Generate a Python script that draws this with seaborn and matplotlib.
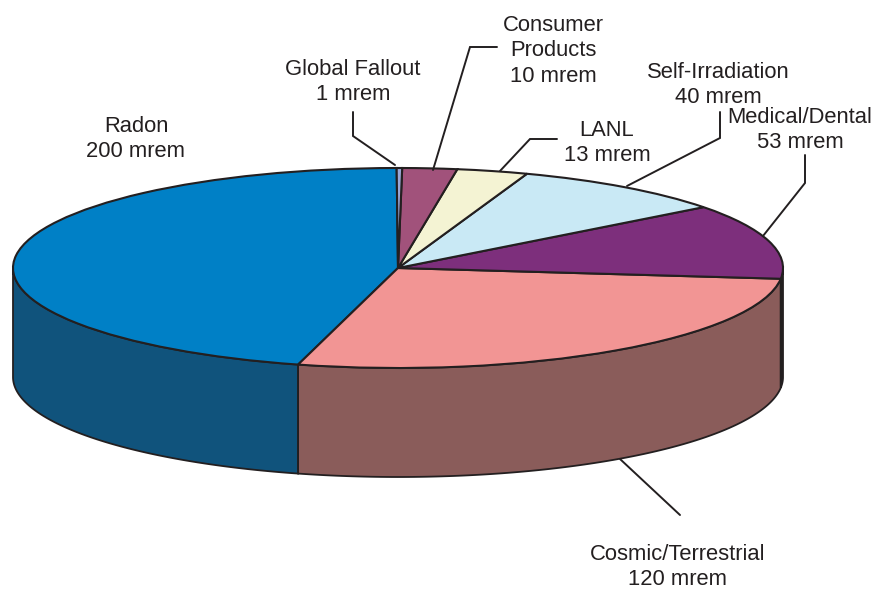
import numpy as np
import matplotlib
matplotlib.use("Agg")
import matplotlib.pyplot as plt
import seaborn as sns

# slices, going counterclockwise from the top of the pie
labels = ["Radon", "Cosmic/Terrestrial", "Medical/Dental", "Self-Irradiation", "LANL", "Consumer\nProducts", "Global Fallout"]
values = [200, 120, 53, 40, 13, 10, 1]
top_colors = ["#0080c6", "#f29594", "#7d2f7c", "#c9e9f5", "#f4f3d3", "#a1527b", "#9aa7d6"]
side_colors = ["#10537c", "#8a5c5a", "#231f20", "#231f20", "#231f20", "#231f20", "#231f20"]

# pie geometry in image pixels
cx, cy, rx, ry, depth = 398, 268, 385, 100, 109
start = 90.2
ink = "#231f20"

sns.set_theme(style="white")
plt.rcParams["font.family"] = ["Liberation Sans", "DejaVu Sans"]


def px(x, y):
    return (x - cx) / rx, (cy - y) / ry


fig = plt.figure(figsize=(8.75, 5.9), dpi=100)
ax = fig.add_axes([0, 0, 1, 1])

# side wall, only the part facing front
edges = start + np.cumsum([0] + values) / sum(values) * 360
d = depth / ry
for i in range(len(values)):
    a0, a1 = max(edges[i], 180), min(edges[i + 1], 360)
    if a1 <= a0:
        continue
    t = np.radians(np.linspace(a0, a1, 120))
    xs = np.cos(t)
    ys = np.sin(t)
    ax.fill(np.r_[xs, xs[::-1]], np.r_[ys, ys[::-1] - d],
            facecolor=side_colors[i], edgecolor=ink, linewidth=1.3, zorder=1)

wedges, _ = ax.pie(values, colors=top_colors, startangle=start, counterclock=True,
                   wedgeprops=dict(edgecolor=ink, linewidth=1.5))
for w in wedges:
    w.set_zorder(2)
ax.set_aspect("auto")
ax.set_xlim(px(0, 0)[0], px(875, 0)[0])
ax.set_ylim(px(0, 590)[1], px(0, 0)[1])
ax.axis("off")

# leader lines
leaders = [
    [(395, 165), (353, 136), (353, 112)],
    [(433, 170), (470, 47), (497, 47)],
    [(500, 171), (530, 139), (557, 139)],
    [(627, 186), (720, 138), (720, 112)],
    [(763, 236), (805, 183), (805, 155)],
    [(620, 459), (680, 515)],
]
for pts in leaders:
    lx, ly = zip(*[px(*p) for p in pts])
    ax.plot(lx, ly, color=ink, linewidth=1.4, zorder=3, solid_joinstyle="miter")

# labels, value under name
spots = {
    "Radon": (136, 139),
    "Cosmic/Terrestrial": (678, 567),
    "Medical/Dental": (800, 130),
    "Self-Irradiation": (718, 85),
    "LANL": (607, 143),
    "Consumer\nProducts": (553, 51),
    "Global Fallout": (353, 82),
}
for name, val in zip(labels, values):
    x, y = spots[name]
    tx, ty = px(x, y)
    ax.text(tx, ty, f"{name}\n{val} mrem", ha="center", va="center", fontsize=15.8,
            color=ink, linespacing=1.3, zorder=4)

fig.savefig("out.png", dpi=100)
